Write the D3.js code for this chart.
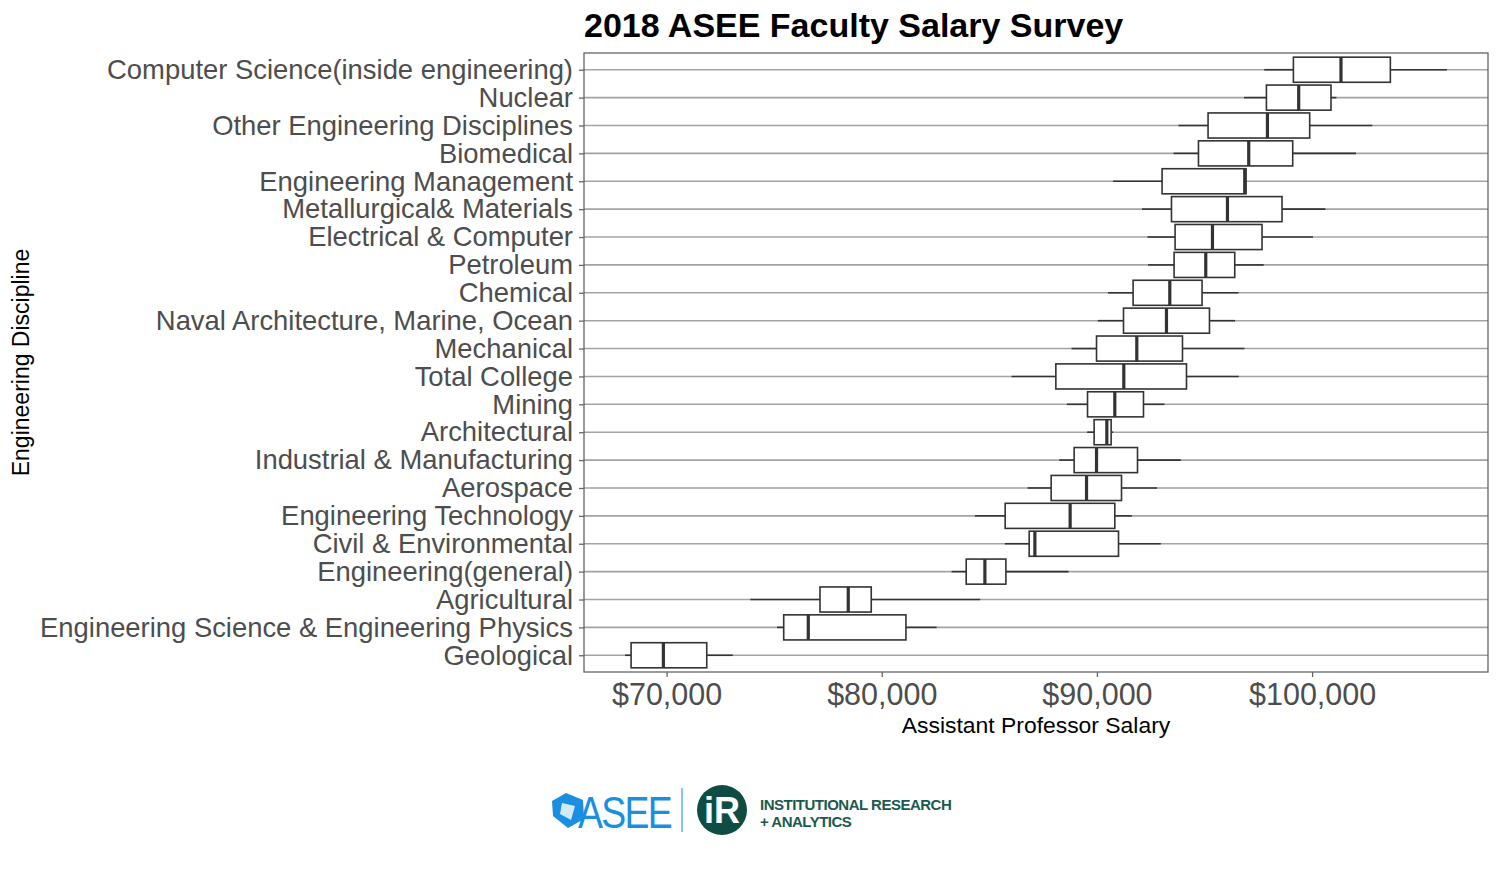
<!DOCTYPE html>
<html>
<head>
<meta charset="utf-8">
<script src="https://cdn.jsdelivr.net/npm/d3@7"></script>
<style>
  html, body { margin: 0; padding: 0; background: #fff; }
  svg { display: block; }
  text { font-family: "Liberation Sans", Arial, sans-serif; }
</style>
</head>
<body>
<svg id="chart" width="1500" height="872"></svg>
<script>
const categories = [
  "Computer Science(inside engineering)", "Nuclear", "Other Engineering Disciplines",
  "Biomedical", "Engineering Management", "Metallurgical& Materials",
  "Electrical & Computer", "Petroleum", "Chemical", "Naval Architecture, Marine, Ocean",
  "Mechanical", "Total College", "Mining", "Architectural", "Industrial & Manufacturing",
  "Aerospace", "Engineering Technology", "Civil & Environmental", "Engineering(general)",
  "Agricultural", "Engineering Science & Engineering Physics", "Geological"
];
const whiskerLow = [97775, 96837, 93790, 93558, 90752, 92099, 92350, 92378, 90520, 90042,
  88820, 86033, 88602, 89545, 88244, 86776, 84329, 85722, 83247, 73892, 75132, 68072];
const q1 = [99131, 97877, 95165, 94719, 93028, 93465, 93632, 93586, 91681, 91235,
  89981, 88091, 89563, 89870, 88941, 87873, 85736, 86851, 83925, 77130, 75444, 68351];
const medians = [101342, 99377, 97924, 97055, 96869, 96066, 95369, 95058, 93386, 93232,
  91853, 91249, 90831, 90460, 89981, 89517, 88755, 87116, 84793, 78444, 76586, 69851];
const q3 = [103637, 100878, 99888, 99099, 96930, 98602, 97673, 96405, 94886, 95230,
  93976, 94162, 92164, 90660, 91886, 91142, 90831, 91003, 85769, 79512, 81124, 71867];
const whiskerHigh = [106265, 101129, 102801, 102039, 96930, 100618, 100042, 97752, 96577, 96419,
  96856, 96591, 93140, 90752, 93897, 92796, 91621, 92968, 88681, 84575, 82550, 73075];
const xTicks = [70000, 80000, 90000, 100000];

const svg = d3.select("#chart");
const panel = { left: 584, right: 1488, top: 53, bottom: 672 };

const dmin = d3.min(whiskerLow), dmax = d3.max(whiskerHigh);
const pad = (dmax - dmin) * 0.05;
const x = d3.scaleLinear().domain([dmin - pad, dmax + pad]).range([panel.left, panel.right]);

const unit = (panel.bottom - panel.top) / (categories.length - 1 + 1.2);
const y = d3.scalePoint().domain(categories)
  .range([panel.top + 0.6 * unit, panel.bottom - 0.6 * unit]);
const boxH = unit * 0.9;

const data = categories.map((c, i) => ({
  c, lo: whiskerLow[i], q1: q1[i], med: medians[i], q3: q3[i], hi: whiskerHigh[i]
}));

// gridlines
svg.append("g").selectAll("line").data(categories).join("line")
  .attr("x1", panel.left).attr("x2", panel.right)
  .attr("y1", d => y(d)).attr("y2", d => y(d))
  .attr("stroke", "#a3a3a3").attr("stroke-width", 1.6);

// boxes
const g = svg.append("g");
const rows = g.selectAll("g.box").data(data).join("g").attr("class", "box");
rows.append("line")
  .attr("x1", d => x(d.lo)).attr("x2", d => x(d.q1))
  .attr("y1", d => y(d.c)).attr("y2", d => y(d.c))
  .attr("stroke", "#333").attr("stroke-width", 1.6);
rows.append("line")
  .attr("x1", d => x(d.q3)).attr("x2", d => x(d.hi))
  .attr("y1", d => y(d.c)).attr("y2", d => y(d.c))
  .attr("stroke", "#333").attr("stroke-width", 1.6);
rows.append("rect")
  .attr("x", d => x(d.q1)).attr("width", d => Math.max(0.5, x(d.q3) - x(d.q1)))
  .attr("y", d => y(d.c) - boxH / 2).attr("height", boxH)
  .attr("fill", "#fff").attr("stroke", "#333").attr("stroke-width", 1.6);
rows.append("line")
  .attr("x1", d => x(d.med)).attr("x2", d => x(d.med))
  .attr("y1", d => y(d.c) - boxH / 2).attr("y2", d => y(d.c) + boxH / 2)
  .attr("stroke", "#333").attr("stroke-width", 3.2);

// panel border
svg.append("rect")
  .attr("x", panel.left).attr("y", panel.top)
  .attr("width", panel.right - panel.left).attr("height", panel.bottom - panel.top)
  .attr("fill", "none").attr("stroke", "#666").attr("stroke-width", 1.3);

// x axis
const xAxis = svg.append("g").attr("transform", `translate(0,${panel.bottom})`)
  .call(d3.axisBottom(x).tickValues(xTicks).tickSize(5).tickPadding(6)
    .tickFormat(d => "$" + d3.format(",")(d)));
xAxis.select(".domain").remove();
xAxis.selectAll(".tick line").attr("stroke", "#666").attr("stroke-width", 1.3);
xAxis.selectAll(".tick text").attr("fill", "#4d4d4d")
  .style("font-size", "30.5px").attr("font-family", "Liberation Sans, Arial, sans-serif");

// y axis
const yAxis = svg.append("g").attr("transform", `translate(${panel.left},0)`)
  .call(d3.axisLeft(y).tickSize(5).tickPadding(6));
yAxis.select(".domain").remove();
yAxis.selectAll(".tick line").attr("stroke", "#666").attr("stroke-width", 1.3);
yAxis.selectAll(".tick text").attr("fill", "#4d4d4d")
  .style("font-size", "27.4px").attr("font-family", "Liberation Sans, Arial, sans-serif");

// titles
svg.append("text").attr("x", panel.left).attr("y", 37)
  .attr("font-weight", "bold").attr("font-size", 34).attr("fill", "#000")
  .text("2018 ASEE Faculty Salary Survey");
svg.append("text").attr("x", (panel.left + panel.right) / 2).attr("y", 733)
  .attr("text-anchor", "middle").attr("font-size", 22.9).attr("fill", "#000")
  .text("Assistant Professor Salary");
svg.append("text")
  .attr("transform", `translate(29,${(panel.top + panel.bottom) / 2}) rotate(-90)`)
  .attr("text-anchor", "middle").attr("font-size", 23).attr("fill", "#000")
  .text("Engineering Discipline");

// logos
const logo = svg.append("g");
logo.append("path")
  .attr("d", "M566,793 L583,800 L584,819 L568,828 L553,816 L552,801 Z")
  .attr("fill", "#1a8fe0");
logo.append("path")
  .attr("d", "M562,803 L575,806 L571,820 L560,814 Z")
  .attr("fill", "#fff").attr("opacity", 0.8);
logo.append("text").attr("x", 578).attr("y", 828)
  .attr("font-size", 44).attr("fill", "#1a8fe0").attr("letter-spacing", -2)
  .attr("transform", "translate(578,828) scale(0.85,1) translate(-578,-828)")
  .text("ASEE");
logo.append("line").attr("x1", 682).attr("x2", 682).attr("y1", 788).attr("y2", 832)
  .attr("stroke", "#5ab4e8").attr("stroke-width", 1.5);
logo.append("circle").attr("cx", 722).attr("cy", 810).attr("r", 25).attr("fill", "#0f4d44");
logo.append("text").attr("x", 722).attr("y", 823).attr("text-anchor", "middle")
  .attr("font-size", 36).attr("font-weight", "bold").attr("fill", "#fff")
  .attr("font-family", "DejaVu Serif, serif").text("iR");
logo.append("text").attr("x", 760).attr("y", 810)
  .attr("font-size", 15).attr("font-weight", "bold").attr("fill", "#1a5a4e")
  .attr("letter-spacing", -0.5).text("INSTITUTIONAL RESEARCH");
logo.append("text").attr("x", 760).attr("y", 827)
  .attr("font-size", 15).attr("font-weight", "bold").attr("fill", "#1a5a4e")
  .attr("letter-spacing", -0.5).text("+ ANALYTICS");
</script>
</body>
</html>
